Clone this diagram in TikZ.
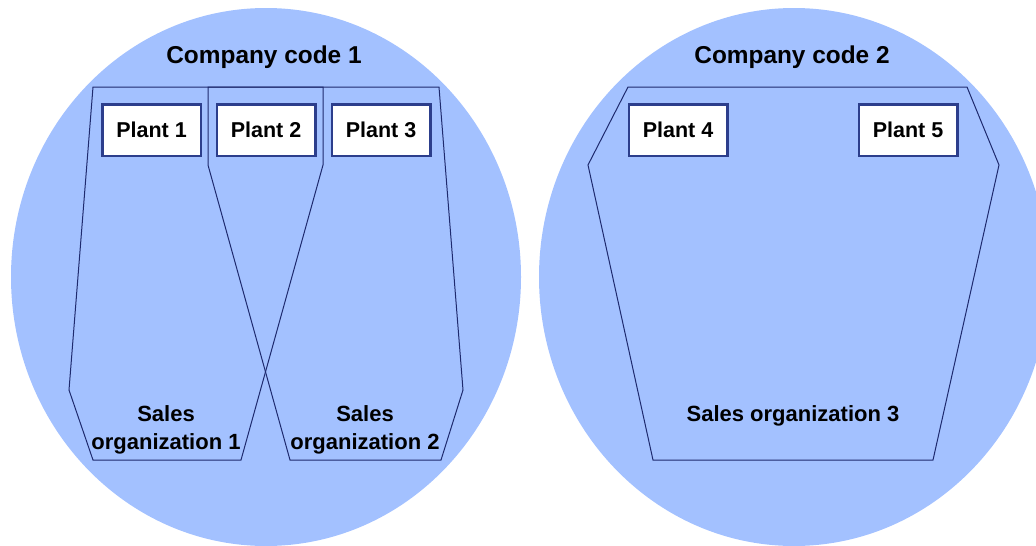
\documentclass[tikz,border=0pt]{standalone}
\usepackage{fontspec}
\setmainfont{Liberation Sans}
\definecolor{ccblue}{RGB}{163,193,255}
\definecolor{orgline}{RGB}{30,42,110}
\definecolor{plantline}{RGB}{44,62,140}

\begin{document}
\begin{tikzpicture}[x=1pt, y=-1pt,
  company/.style={fill=ccblue},
  org/.style={draw=orgline, line width=1pt},
  plant/.style={draw=plantline, fill=white, line width=2.5pt, inner sep=0pt,
    minimum width=98.5pt, minimum height=51.5pt,
    font=\fontsize{21.5}{26}\selectfont\bfseries},
  cctext/.style={font=\fontsize{24.4}{29}\selectfont\bfseries},
  orgtext/.style={align=center, font=\fontsize{22}{28}\selectfont\bfseries}]
\useasboundingbox (0,0) rectangle (1036,546);
\clip (0,0) rectangle (1036,546);
\fill[company] (266,277) ellipse [x radius=255pt, y radius=269pt];
\fill[company] (794,277) ellipse [x radius=255pt, y radius=269pt];
\node[cctext] (cc1) at (264,57) {Company code 1};
\node[cctext] (cc2) at (792,57) {Company code 2};
\draw[org] (93,87) -- (323,87) -- (323,165) -- (241,460) -- (93,460) -- (69,390) -- cycle;
\draw[org] (208,87) -- (439,87) -- (463,390) -- (441,460) -- (290,460) -- (208,165) -- cycle;
\draw[org] (628,87) -- (967,87) -- (999,165) -- (933,460) -- (653,460) -- (588,165) -- cycle;
\node[plant] (p1) at (151.5,130) {Plant 1};
\node[plant] (p2) at (266,130) {Plant 2};
\node[plant] (p3) at (381,130) {Plant 3};
\node[plant] (p4) at (678,130) {Plant 4};
\node[plant] (p5) at (908,130) {Plant 5};
\node[orgtext] (so1) at (166,430) {Sales\\organization 1};
\node[orgtext] (so2) at (365,430) {Sales\\organization 2};
\node[orgtext] (so3) at (793,416) {Sales organization 3};
\end{tikzpicture}
\end{document}
